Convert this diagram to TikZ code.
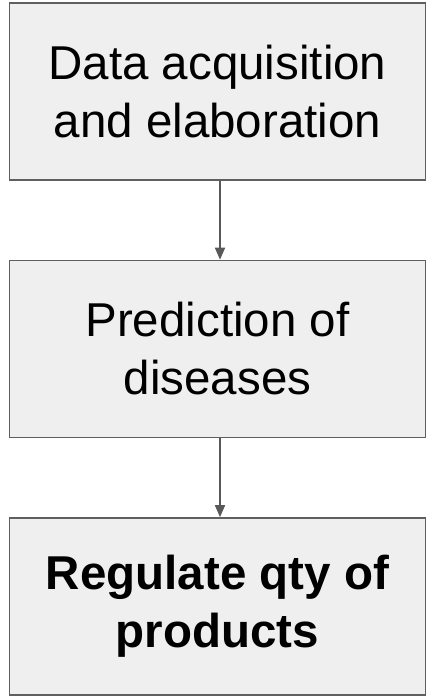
\documentclass[tikz,border=0pt]{standalone}
\usepackage{fontspec}
\setmainfont{Liberation Sans}
\usetikzlibrary{arrows.meta}
\definecolor{boxfill}{HTML}{EFEFEF}
\definecolor{boxline}{HTML}{5F5F5F}
\definecolor{arrowcol}{HTML}{595959}
\tikzset{
  flowbox/.style={draw=boxline, line width=1.6pt, fill=boxfill, minimum width=416pt, minimum height=177pt, inner sep=0pt, align=center, font=\fontsize{47.5}{58}\selectfont},
  flowarrow/.style={draw=arrowcol, line width=1.6pt, -{Triangle[width=10pt,length=12pt]}}
}
\begin{document}
\begin{tikzpicture}[x=1pt,y=1pt]
\useasboundingbox (0,0) rectangle (427,-696);
\node[flowbox] (a) at (217.5,-91.3) {Data acquisition\\and elaboration};
\node[flowbox] (b) at (217.5,-349) {Prediction of\\diseases};
\node[flowbox, font=\fontsize{47.5}{58}\selectfont\bfseries] (c) at (217.5,-606.5) {Regulate qty of\\products};
\draw[flowarrow] (a.south -| 220,0) -- (b.north -| 220,0);
\draw[flowarrow] (b.south -| 220,0) -- (c.north -| 220,0);
\end{tikzpicture}
\end{document}
